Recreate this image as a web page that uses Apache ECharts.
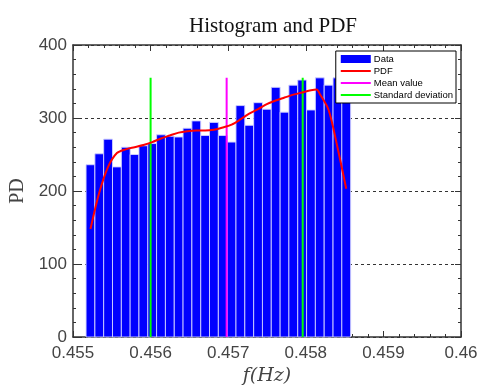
<!DOCTYPE html>
<html><head><meta charset="utf-8">
<script src="https://cdn.jsdelivr.net/npm/echarts@6/dist/echarts.min.js"></script>
<style>html,body{margin:0;padding:0;background:#fff}#c{width:481px;height:387px}</style>
</head><body><div id="c"></div>
<script>
// ---- data ----
const binCenters = [0.455225,0.455339,0.455452,0.455566,0.455680,0.455793,0.455907,0.456021,0.456134,0.456248,
  0.456362,0.456475,0.456589,0.456703,0.456816,0.456930,0.457044,0.457157,0.457271,0.457385,
  0.457498,0.457612,0.457726,0.457839,0.457953,0.458067,0.458180,0.458294,0.458408,0.458521];
const binWidth = 0.0001137;
const counts = [236,251,271,233,260,250,262,265,277,275,
  274,286,296,276,294,276,267,317,290,321,
  312,342,308,345,352,311,355,345,355,352];
const pdfX = [0.455225,0.455339,0.455452,0.455566,0.455680,0.455793,0.455907,0.456021,0.456134,0.456248,
  0.456362,0.456475,0.456589,0.456703,0.456816,0.456930,0.457044,0.457157,0.457271,0.457385,
  0.457498,0.457612,0.457726,0.457839,0.457953,0.458067,0.458140,0.458180,0.458294,0.458408,0.458521];
const pdfY = [148,198,233,252,257,260,263,267,272,276,
  280,282,283,283,284,287,291,298,306,312,
  319,324,328,332,335,338,339,333,311,260,203];
const meanValue = 0.45698;
const stdLines = [0.45600, 0.45796];
const vLineTop = 355;
const xTicks = ['0.455','0.456','0.457','0.458','0.459','0.46'];

const chart = echarts.init(document.getElementById('c'), null, {renderer:'canvas'});
const sans = 'Liberation Sans';
const serif = 'Liberation Serif';
const axisCol = '#333';
const lineIcon = 'path://M0,0L0,0ZM0,3L30,3L30,5L0,5ZM30,8L30,8Z';
const seriesList = [
  {
    name:'Data', type:'custom', xAxisIndex:0, yAxisIndex:0, z:2,
    itemStyle:{color:'#0000ff'},
    data: binCenters.map((c,i)=>[c,counts[i]]),
    renderItem:function(params, api){
      const c = api.value(0), v = api.value(1);
      const p1 = api.coord([c-binWidth/2, v]);
      const p2 = api.coord([c+binWidth/2, 0]);
      return {type:'rect', shape:{x:p1[0], y:p1[1], width:p2[0]-p1[0], height:p2[1]-p1[1]},
        style:{fill:'#0000ff', stroke:'rgba(210,210,255,0.9)', lineWidth:1}};
    }
  },
  {
    name:'PDF', type:'line', smooth:0.3, symbol:'none', showSymbol:false, z:5,
    lineStyle:{color:'#ff0000', width:2}, itemStyle:{color:'#ff0000'},
    data: pdfX.map((x,i)=>[x,pdfY[i]])
  },
  {
    name:'Mean value', type:'line', symbol:'none', showSymbol:false, z:4,
    lineStyle:{color:'#ff00ff', width:2}, itemStyle:{color:'#ff00ff'},
    data:[[meanValue,0],[meanValue,vLineTop]]
  }
];
stdLines.forEach(s=>seriesList.push({
  name:'Standard deviation', type:'line', symbol:'none', showSymbol:false, z:4,
  lineStyle:{color:'#00ff00', width:2}, itemStyle:{color:'#00ff00'},
  data:[[s,0],[s,vLineTop]]
}));

chart.setOption({
  animation:false,
  backgroundColor:'#fff',
  title:{text:'Histogram and PDF', left:268, top:11, textAlign:'center',
    textStyle:{fontFamily:serif, fontSize:21, fontWeight:'normal', color:'#111'}},
  legend:{
    orient:'vertical', right:25, top:51, backgroundColor:'#fff',
    borderColor:'#000', borderWidth:1, padding:[3,3,3,5], itemGap:2,
    itemWidth:30, itemHeight:8, z:10,
    textStyle:{fontFamily:sans, fontSize:9.5, color:'#000', padding:[0,0,0,-2]},
    data:[
      {name:'Data', icon:'rect', itemStyle:{color:'#0000ff'}},
      {name:'PDF', icon:lineIcon, itemStyle:{color:'#ff0000'}},
      {name:'Mean value', icon:lineIcon, itemStyle:{color:'#ff00ff'}},
      {name:'Standard deviation', icon:lineIcon, itemStyle:{color:'#00ff00'}}
    ]
  },
  grid:{left:73, right:20, top:45, bottom:50, containLabel:false, outerBoundsMode:'none'},
  xAxis:[{
    type:'value', min:0.455, max:0.46, interval:0.001,
    name:'f(Hz)', nameLocation:'middle', nameGap:27,
    nameTextStyle:{fontFamily:'DejaVu Serif', fontStyle:'italic', fontSize:19, color:'#444'},
    axisLine:{show:true, onZero:false, lineStyle:{color:axisCol, width:1.5}},
    axisTick:{show:true, inside:true, length:6, lineStyle:{color:axisCol}},
    minorTick:{show:true, splitNumber:5, length:3, lineStyle:{color:axisCol}},
    axisLabel:{fontFamily:sans, fontSize:17, color:'#444', margin:8,
      formatter:(v)=>{const i=Math.round((v-0.455)/0.001); return xTicks[i]!==undefined?xTicks[i]:'';}},
    splitLine:{show:false}
  },{
    type:'value', position:'top', min:0.455, max:0.46, interval:0.001,
    axisLine:{show:true, onZero:false, lineStyle:{color:axisCol, width:1.5}},
    axisTick:{show:true, inside:true, length:6, lineStyle:{color:axisCol}},
    minorTick:{show:true, splitNumber:5, length:3, lineStyle:{color:axisCol}},
    axisLabel:{show:false}, splitLine:{show:false}
  }],
  yAxis:[{
    type:'value', min:0, max:400, interval:100,
    name:'PD', nameLocation:'middle', nameGap:44, nameRotate:90,
    nameTextStyle:{fontFamily:serif, fontSize:20, color:'#444'},
    axisLine:{show:true, onZero:false, lineStyle:{color:axisCol, width:1.5}},
    axisTick:{show:true, inside:true, length:6, lineStyle:{color:axisCol}},
    minorTick:{show:true, splitNumber:5, length:3, lineStyle:{color:axisCol}},
    axisLabel:{fontFamily:sans, fontSize:17, color:'#444', margin:6},
    splitLine:{show:true, lineStyle:{color:'#333', type:[3,3], width:1}}
  },{
    type:'value', position:'right', min:0, max:400, interval:100,
    axisLine:{show:true, onZero:false, lineStyle:{color:axisCol, width:1.5}},
    axisTick:{show:true, inside:true, length:6, lineStyle:{color:axisCol}},
    minorTick:{show:true, splitNumber:5, length:3, lineStyle:{color:axisCol}},
    axisLabel:{show:false}, splitLine:{show:false}
  }],
  series: seriesList
});
</script></body></html>
